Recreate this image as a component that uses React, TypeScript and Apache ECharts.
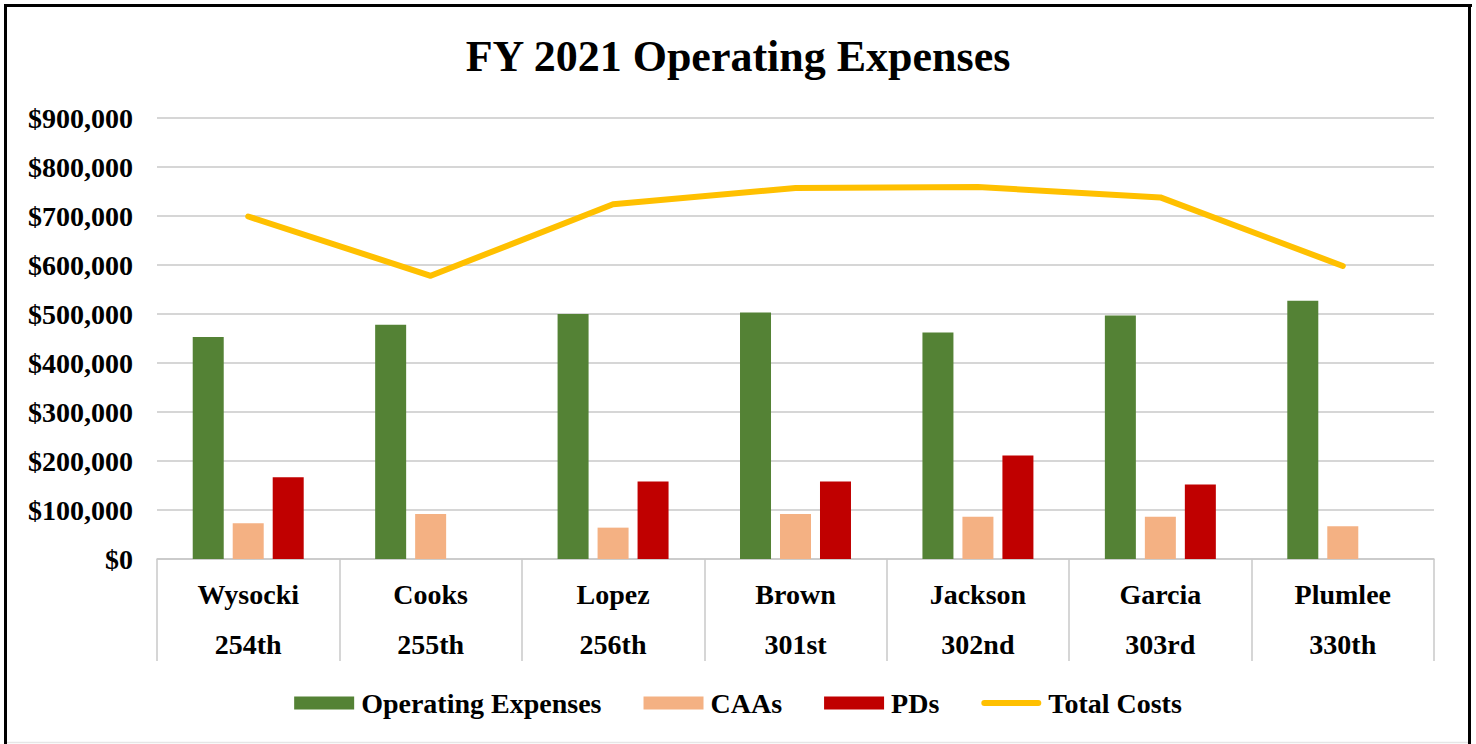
import React, { useEffect, useRef } from "react";
import * as echarts from "echarts";

const judges = ["Wysocki", "Cooks", "Lopez", "Brown", "Jackson", "Garcia", "Plumlee"];
const districts = ["254th", "255th", "256th", "301st", "302nd", "303rd", "330th"];
const operatingExpenses = [453000, 478000, 500000, 503000, 462000, 497000, 527000];
const caas = [73000, 92000, 64000, 92000, 86000, 86000, 67000];
const pds: (number | null)[] = [167000, null, 158000, 158000, 211000, 152000, null];
const totalCosts = [699000, 578000, 724000, 757000, 759000, 738000, 598000];

const FONT = "'Liberation Serif', 'Times New Roman', serif";

export default function App() {
  const ref = useRef<HTMLDivElement>(null);
  useEffect(() => {
    if (!ref.current) return;
    const chart = echarts.init(ref.current, undefined, { renderer: "svg" });
    const categories = judges.map((j, i) => j + "\n" + districts[i]);
    chart.setOption({
      animation: false,
      backgroundColor: "#ffffff",
      textStyle: { fontFamily: FONT, color: "#000" },
      title: {
        text: "FY 2021 Operating Expenses",
        left: "center",
        top: 29,
        textStyle: { fontFamily: FONT, fontSize: 44, fontWeight: "bold", color: "#000" },
      },
      grid: { left: 157, right: 42, top: 118, bottom: 185, containLabel: false },
      legend: {
        bottom: 22,
        left: "center",
        itemWidth: 60,
        itemHeight: 13,
        itemGap: 42,
        symbolKeepAspect: true,
        textStyle: { fontFamily: FONT, fontSize: 28, fontWeight: "bold", color: "#000", padding: [0, 0, 0, 2] },
        data: [
          { name: "Operating Expenses", icon: "rect" },
          { name: "CAAs", icon: "rect" },
          { name: "PDs", icon: "rect" },
          {
            name: "Total Costs",
            icon: "path://M3,0 L57,0 A3,3 0 0 1 57,6 L3,6 A3,3 0 0 1 3,0 Z",
          },
        ],
      },
      xAxis: {
        type: "category",
        data: categories,
        boundaryGap: true,
        axisLine: { show: true, lineStyle: { color: "#c8c8c8", width: 1.5 } },
        axisTick: { show: true, length: 102, alignWithLabel: false, lineStyle: { color: "#c8c8c8", width: 1.5 } },
        axisLabel: {
          fontFamily: FONT,
          fontSize: 28,
          fontWeight: "bold",
          color: "#000",
          lineHeight: 50,
          margin: 10,
          interval: 0,
        },
      },
      yAxis: {
        type: "value",
        min: 0,
        max: 900000,
        interval: 100000,
        axisLine: { show: false },
        axisTick: { show: false },
        splitLine: { lineStyle: { color: "#c9c9c9", width: 1.5 } },
        axisLabel: {
          fontFamily: FONT,
          fontSize: 28,
          fontWeight: "bold",
          color: "#000",
          margin: 24,
          formatter: (v: number) => "$" + v.toLocaleString("en-US"),
        },
      },
      series: [
        {
          name: "Operating Expenses",
          type: "bar",
          data: operatingExpenses,
          barWidth: 31,
          barGap: "29%",
          itemStyle: { color: "#548235" },
        },
        {
          name: "CAAs",
          type: "bar",
          data: caas,
          barWidth: 31,
          barGap: "29%",
          itemStyle: { color: "#F4B183" },
        },
        {
          name: "PDs",
          type: "bar",
          data: pds,
          barWidth: 31,
          barGap: "29%",
          itemStyle: { color: "#C00000" },
        },
        {
          name: "Total Costs",
          type: "line",
          data: totalCosts,
          symbol: "none",
          lineStyle: { color: "#FFC000", width: 6, cap: "round", join: "round" },
          itemStyle: { color: "#FFC000" },
        },
      ],
      graphic: [
        { type: "line", shape: { x1: 5.5, y1: 4, x2: 5.5, y2: 744 }, style: { stroke: "#000", lineWidth: 3 } },
        { type: "line", shape: { x1: 4, y1: 5.5, x2: 1472, y2: 5.5 }, style: { stroke: "#000", lineWidth: 3 } },
        { type: "line", shape: { x1: 1469.5, y1: 4, x2: 1469.5, y2: 744 }, style: { stroke: "#000", lineWidth: 3 } },
        { type: "line", shape: { x1: 7, y1: 742.5, x2: 1468, y2: 742.5 }, style: { stroke: "#e6e6e6", lineWidth: 1.5 } },
      ],
    });
    return () => chart.dispose();
  }, []);
  return (
    <div
      ref={ref}
      style={{ position: "absolute", left: 0, top: 0, width: 1476, height: 744 }}
    />
  );
}
